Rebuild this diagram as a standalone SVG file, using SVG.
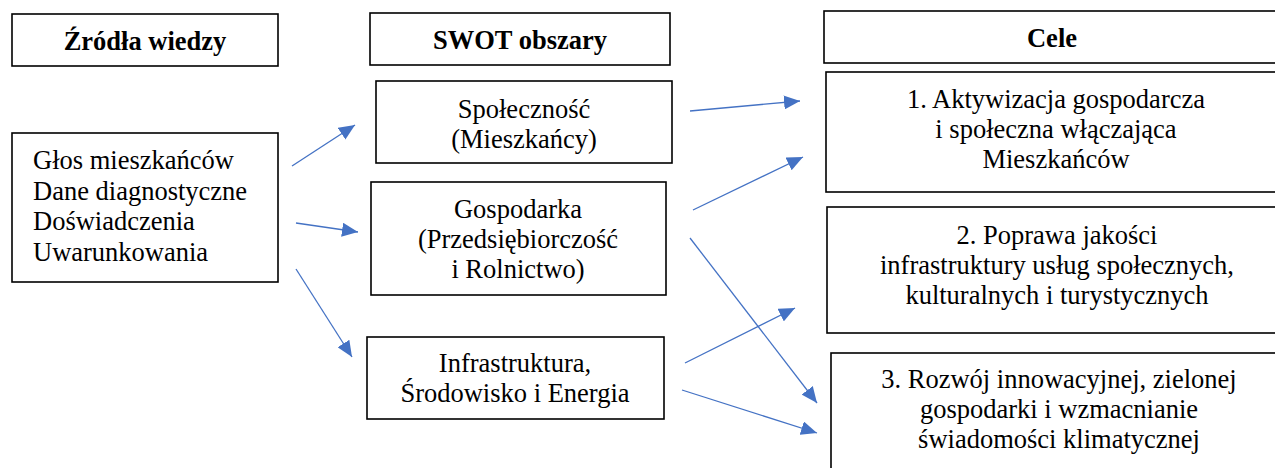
<svg xmlns="http://www.w3.org/2000/svg" width="1275" height="468" viewBox="0 0 1275 468">
<style>
.box{fill:#fff;stroke:#000;stroke-width:1.6}
.t{font-family:'Liberation Serif','Tinos','Times New Roman','DejaVu Serif','Noto Serif',serif;font-size:26.5px;fill:#000;text-anchor:middle}
.b{font-weight:bold}
.l{text-anchor:start}
.c{stroke:#4472C4;stroke-width:1.3;fill:none;marker-end:url(#ah)}
</style>
<defs>
<marker id="ah" markerUnits="userSpaceOnUse" markerWidth="17" markerHeight="14" refX="16" refY="7" orient="auto">
<path d="M0,0 L16,7 L0,14 z" fill="#4472C4"/>
</marker>
</defs>
<rect width="1275" height="468" fill="#fff"/>
<g id="h1"><rect class="box" x="12" y="14" width="266" height="52"/><text class="t b" x="145" y="50">Źródła wiedzy</text></g>
<g id="h2"><rect class="box" x="370" y="13" width="300" height="52"/><text class="t b" x="520" y="49">SWOT obszary</text></g>
<g id="h3"><rect class="box" x="824" y="11" width="460" height="52"/><text class="t b" x="1052" y="47">Cele</text></g>
<g id="zrodla"><rect class="box" x="12" y="133" width="266" height="149"/>
<text class="t l" x="33" y="169">Głos mieszkańców</text>
<text class="t l" x="33" y="199.5">Dane diagnostyczne</text>
<text class="t l" x="33" y="230">Doświadczenia</text>
<text class="t l" x="33" y="260.5">Uwarunkowania</text></g>
<g id="spolecznosc"><rect class="box" x="376" y="81" width="296" height="82"/>
<text class="t" x="524" y="118">Społeczność</text>
<text class="t" x="524" y="148">(Mieszkańcy)</text></g>
<g id="gospodarka"><rect class="box" x="371" y="182" width="295" height="113"/>
<text class="t" x="518" y="218">Gospodarka</text>
<text class="t" x="518" y="248">(Przedsiębiorczość</text>
<text class="t" x="518" y="278">i Rolnictwo)</text></g>
<g id="infrastruktura"><rect class="box" x="367" y="337" width="297" height="82"/>
<text class="t" x="515" y="372">Infrastruktura,</text>
<text class="t" x="515" y="402">Środowisko i Energia</text></g>
<g id="cel1"><rect class="box" x="826" y="72" width="458" height="120"/>
<text class="t" x="1056" y="108">1. Aktywizacja gospodarcza</text>
<text class="t" x="1056" y="138">i społeczna włączająca</text>
<text class="t" x="1056" y="168">Mieszkańców</text></g>
<g id="cel2"><rect class="box" x="827" y="207" width="458" height="126"/>
<text class="t" x="1057" y="244">2. Poprawa jakości</text>
<text class="t" x="1057" y="274">infrastruktury usług społecznych,</text>
<text class="t" x="1057" y="304">kulturalnych i turystycznych</text></g>
<g id="cel3"><rect class="box" x="831" y="353" width="458" height="130"/>
<text class="t" x="1059" y="388">3. Rozwój innowacyjnej, zielonej</text>
<text class="t" x="1059" y="418">gospodarki i wzmacnianie</text>
<text class="t" x="1059" y="448">świadomości klimatycznej</text></g>
<g id="connectors">
<line class="c" x1="292" y1="166" x2="355" y2="125"/>
<line class="c" x1="296" y1="223" x2="358" y2="232"/>
<line class="c" x1="296" y1="269" x2="352" y2="357"/>
<line class="c" x1="690" y1="111" x2="800" y2="101"/>
<line class="c" x1="693" y1="210" x2="803" y2="157"/>
<line class="c" x1="690" y1="238" x2="817" y2="403"/>
<line class="c" x1="685" y1="363" x2="795" y2="308"/>
<line class="c" x1="682" y1="390" x2="817" y2="433"/>
</g>
</svg>
